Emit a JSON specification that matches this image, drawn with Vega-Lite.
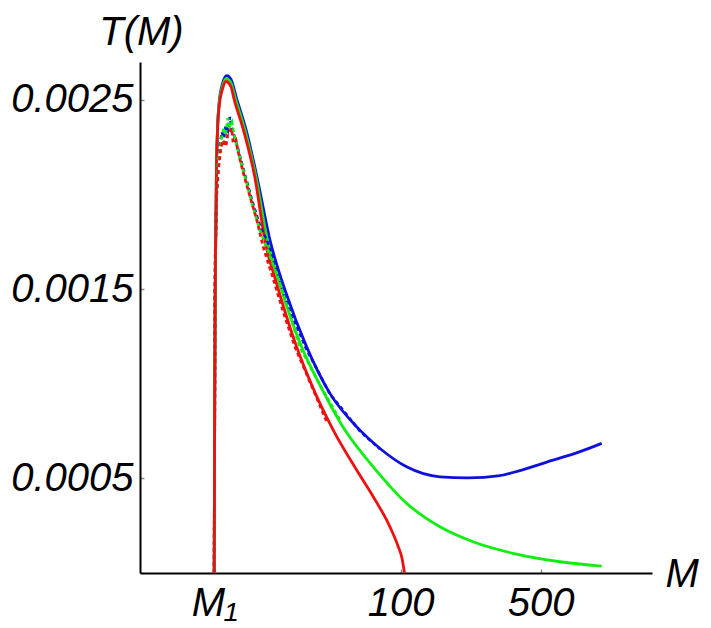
{
  "$schema": "https://vega.github.io/schema/vega-lite/v6.json",
  "width": 512,
  "height": 511,
  "autosize": {"type": "none"},
  "padding": {"left": 140, "top": 62, "right": 59, "bottom": 55},
  "background": "white",
  "config": {
    "view": {"stroke": null},
    "axis": {
      "grid": false,
      "domainColor": "black",
      "domainWidth": 2,
      "tickColor": "#888888",
      "tickWidth": 1.5,
      "tickSize": -4,
      "labelFont": "Liberation Sans",
      "labelFontStyle": "italic",
      "labelFontSize": 40,
      "labelColor": "black",
      "labelFlush": false,
      "labelOverlap": false,
      "titleFont": "Liberation Sans",
      "titleFontStyle": "italic",
      "titleFontSize": 40,
      "titleFontWeight": "normal",
      "titleColor": "black"
    }
  },
  "datasets": {
    "solid": [
      {"s": "1b", "i": 0, "M": 11.73, "T": 0},
      {"s": "1b", "i": 1, "M": 11.76, "T": 0.000385},
      {"s": "1b", "i": 2, "M": 11.80, "T": 0.000914},
      {"s": "1b", "i": 3, "M": 11.86, "T": 0.001442},
      {"s": "1b", "i": 4, "M": 11.97, "T": 0.001864},
      {"s": "1b", "i": 5, "M": 12.03, "T": 0.002102},
      {"s": "1b", "i": 6, "M": 12.17, "T": 0.002329},
      {"s": "1b", "i": 7, "M": 12.45, "T": 0.002498},
      {"s": "1b", "i": 8, "M": 12.89, "T": 0.002583},
      {"s": "1b", "i": 9, "M": 13.53, "T": 0.002628},
      {"s": "1b", "i": 10, "M": 14.22, "T": 0.002609},
      {"s": "1b", "i": 11, "M": 15.18, "T": 0.002507},
      {"s": "1b", "i": 12, "M": 17.03, "T": 0.002331},
      {"s": "1b", "i": 13, "M": 19.10, "T": 0.002102},
      {"s": "1b", "i": 14, "M": 22.26, "T": 0.001760},
      {"s": "1b", "i": 15, "M": 26.98, "T": 0.001470},
      {"s": "1b", "i": 16, "M": 33.94, "T": 0.001195},
      {"s": "1b", "i": 17, "M": 44.36, "T": 0.000949},
      {"s": "1b", "i": 18, "M": 62.61, "T": 0.000755},
      {"s": "1b", "i": 19, "M": 78.83, "T": 0.000658},
      {"s": "1b", "i": 20, "M": 107.1, "T": 0.000561},
      {"s": "1b", "i": 21, "M": 157.1, "T": 0.000508},
      {"s": "1b", "i": 22, "M": 216.8, "T": 0.000503},
      {"s": "1b", "i": 23, "M": 313.2, "T": 0.000515},
      {"s": "1b", "i": 24, "M": 363.7, "T": 0.000531},
      {"s": "1b", "i": 25, "M": 535.7, "T": 0.000586},
      {"s": "1b", "i": 26, "M": 785.6, "T": 0.000641},
      {"s": "1b", "i": 27, "M": 1008, "T": 0.000685},

      {"s": "2g", "i": 0, "M": 11.73, "T": 0},
      {"s": "2g", "i": 1, "M": 11.76, "T": 0.000385},
      {"s": "2g", "i": 2, "M": 11.80, "T": 0.000914},
      {"s": "2g", "i": 3, "M": 11.86, "T": 0.001442},
      {"s": "2g", "i": 4, "M": 11.97, "T": 0.001864},
      {"s": "2g", "i": 5, "M": 12.03, "T": 0.002102},
      {"s": "2g", "i": 6, "M": 12.17, "T": 0.002329},
      {"s": "2g", "i": 7, "M": 12.45, "T": 0.002490},
      {"s": "2g", "i": 8, "M": 12.89, "T": 0.002570},
      {"s": "2g", "i": 9, "M": 13.47, "T": 0.002612},
      {"s": "2g", "i": 10, "M": 14.22, "T": 0.002590},
      {"s": "2g", "i": 11, "M": 14.97, "T": 0.002507},
      {"s": "2g", "i": 12, "M": 16.80, "T": 0.002331},
      {"s": "2g", "i": 13, "M": 18.88, "T": 0.002102},
      {"s": "2g", "i": 14, "M": 21.75, "T": 0.001745},
      {"s": "2g", "i": 15, "M": 24.40, "T": 0.001560},
      {"s": "2g", "i": 16, "M": 32.03, "T": 0.001195},
      {"s": "2g", "i": 17, "M": 39.56, "T": 0.000993},
      {"s": "2g", "i": 18, "M": 52.72, "T": 0.000755},
      {"s": "2g", "i": 19, "M": 72.97, "T": 0.000561},
      {"s": "2g", "i": 20, "M": 107.1, "T": 0.000368},
      {"s": "2g", "i": 21, "M": 157.1, "T": 0.000244},
      {"s": "2g", "i": 22, "M": 229.6, "T": 0.000165},
      {"s": "2g", "i": 23, "M": 363.7, "T": 0.000104},
      {"s": "2g", "i": 24, "M": 624.3, "T": 0.0000594},
      {"s": "2g", "i": 25, "M": 1008, "T": 0.0000367},

      {"s": "3r", "i": 0, "M": 11.73, "T": 0},
      {"s": "3r", "i": 1, "M": 11.76, "T": 0.000385},
      {"s": "3r", "i": 2, "M": 11.80, "T": 0.000914},
      {"s": "3r", "i": 3, "M": 11.86, "T": 0.001442},
      {"s": "3r", "i": 4, "M": 11.97, "T": 0.001864},
      {"s": "3r", "i": 5, "M": 12.03, "T": 0.002102},
      {"s": "3r", "i": 6, "M": 12.17, "T": 0.002320},
      {"s": "3r", "i": 7, "M": 12.45, "T": 0.002475},
      {"s": "3r", "i": 8, "M": 12.89, "T": 0.002555},
      {"s": "3r", "i": 9, "M": 13.42, "T": 0.002597},
      {"s": "3r", "i": 10, "M": 14.22, "T": 0.002570},
      {"s": "3r", "i": 11, "M": 14.72, "T": 0.002507},
      {"s": "3r", "i": 12, "M": 16.51, "T": 0.002331},
      {"s": "3r", "i": 13, "M": 18.63, "T": 0.002102},
      {"s": "3r", "i": 14, "M": 21.26, "T": 0.001730},
      {"s": "3r", "i": 15, "M": 23.57, "T": 0.001560},
      {"s": "3r", "i": 16, "M": 30.25, "T": 0.001195},
      {"s": "3r", "i": 17, "M": 36.91, "T": 0.000966},
      {"s": "3r", "i": 18, "M": 46.08, "T": 0.000755},
      {"s": "3r", "i": 19, "M": 60.31, "T": 0.000544},
      {"s": "3r", "i": 20, "M": 72.97, "T": 0.000403},
      {"s": "3r", "i": 21, "M": 88.43, "T": 0.000244},
      {"s": "3r", "i": 22, "M": 97.28, "T": 0.000139},
      {"s": "3r", "i": 23, "M": 101.5, "T": 0.0000790},
      {"s": "3r", "i": 24, "M": 103.0, "T": 0.0000420},
      {"s": "3r", "i": 25, "M": 104.5, "T": 0}
    ],
    "dash": [
      {"s": "1b", "i": 0, "M": 11.73, "T": 0},
      {"s": "1b", "i": 1, "M": 11.76, "T": 0.000385},
      {"s": "1b", "i": 2, "M": 11.80, "T": 0.000914},
      {"s": "1b", "i": 3, "M": 11.83, "T": 0.001442},
      {"s": "1b", "i": 4, "M": 11.89, "T": 0.001706},
      {"s": "1b", "i": 5, "M": 12.07, "T": 0.002007},
      {"s": "1b", "i": 6, "M": 12.29, "T": 0.002181},
      {"s": "1b", "i": 7, "M": 12.53, "T": 0.002261},
      {"s": "1b", "i": 8, "M": 12.82, "T": 0.002329},
      {"s": "1b", "i": 9, "M": 13.12, "T": 0.002298},
      {"s": "1b", "i": 10, "M": 13.42, "T": 0.002366},
      {"s": "1b", "i": 11, "M": 13.73, "T": 0.002340},
      {"s": "1b", "i": 12, "M": 14.05, "T": 0.002410},
      {"s": "1b", "i": 13, "M": 14.38, "T": 0.002350},
      {"s": "1b", "i": 14, "M": 14.72, "T": 0.002314},
      {"s": "1b", "i": 15, "M": 15.24, "T": 0.002261},
      {"s": "1b", "i": 16, "M": 15.95, "T": 0.002181},
      {"s": "1b", "i": 17, "M": 16.89, "T": 0.002086},
      {"s": "1b", "i": 18, "M": 18.10, "T": 0.001970},
      {"s": "1b", "i": 19, "M": 19.84, "T": 0.001833},
      {"s": "1b", "i": 20, "M": 22.26, "T": 0.001720},
      {"s": "1b", "i": 21, "M": 26.45, "T": 0.001455},
      {"s": "1b", "i": 22, "M": 33.67, "T": 0.001188},
      {"s": "1b", "i": 23, "M": 44.36, "T": 0.000945},
      {"s": "1b", "i": 24, "M": 62.61, "T": 0.000750},
      {"s": "1b", "i": 25, "M": 78.83, "T": 0.000655},

      {"s": "2g", "i": 0, "M": 11.73, "T": 0},
      {"s": "2g", "i": 1, "M": 11.76, "T": 0.000385},
      {"s": "2g", "i": 2, "M": 11.80, "T": 0.000914},
      {"s": "2g", "i": 3, "M": 11.83, "T": 0.001442},
      {"s": "2g", "i": 4, "M": 11.89, "T": 0.001706},
      {"s": "2g", "i": 5, "M": 12.07, "T": 0.002007},
      {"s": "2g", "i": 6, "M": 12.29, "T": 0.002181},
      {"s": "2g", "i": 7, "M": 12.53, "T": 0.002234},
      {"s": "2g", "i": 8, "M": 12.82, "T": 0.002309},
      {"s": "2g", "i": 9, "M": 13.12, "T": 0.002351},
      {"s": "2g", "i": 10, "M": 13.42, "T": 0.002329},
      {"s": "2g", "i": 11, "M": 13.73, "T": 0.002403},
      {"s": "2g", "i": 12, "M": 14.05, "T": 0.002361},
      {"s": "2g", "i": 13, "M": 14.38, "T": 0.002382},
      {"s": "2g", "i": 14, "M": 14.72, "T": 0.002319},
      {"s": "2g", "i": 15, "M": 15.24, "T": 0.002255},
      {"s": "2g", "i": 16, "M": 15.95, "T": 0.002171},
      {"s": "2g", "i": 17, "M": 16.89, "T": 0.002076},
      {"s": "2g", "i": 18, "M": 18.10, "T": 0.001954},
      {"s": "2g", "i": 19, "M": 19.84, "T": 0.001812},
      {"s": "2g", "i": 20, "M": 21.75, "T": 0.001705},
      {"s": "2g", "i": 21, "M": 24.96, "T": 0.001530},
      {"s": "2g", "i": 22, "M": 31.42, "T": 0.001194},
      {"s": "2g", "i": 23, "M": 39.56, "T": 0.000993},
      {"s": "2g", "i": 24, "M": 49.77, "T": 0.000808},

      {"s": "3r", "i": 0, "M": 11.73, "T": 0},
      {"s": "3r", "i": 1, "M": 11.76, "T": 0.000385},
      {"s": "3r", "i": 2, "M": 11.80, "T": 0.000914},
      {"s": "3r", "i": 3, "M": 11.83, "T": 0.001442},
      {"s": "3r", "i": 4, "M": 11.89, "T": 0.001706},
      {"s": "3r", "i": 5, "M": 12.07, "T": 0.002007},
      {"s": "3r", "i": 6, "M": 12.38, "T": 0.002155},
      {"s": "3r", "i": 7, "M": 12.67, "T": 0.002245},
      {"s": "3r", "i": 8, "M": 13.01, "T": 0.002287},
      {"s": "3r", "i": 9, "M": 13.42, "T": 0.002255},
      {"s": "3r", "i": 10, "M": 13.73, "T": 0.002319},
      {"s": "3r", "i": 11, "M": 14.33, "T": 0.002349},
      {"s": "3r", "i": 12, "M": 14.60, "T": 0.002270},
      {"s": "3r", "i": 13, "M": 15.06, "T": 0.002287},
      {"s": "3r", "i": 14, "M": 15.59, "T": 0.002208},
      {"s": "3r", "i": 15, "M": 16.51, "T": 0.002102},
      {"s": "3r", "i": 16, "M": 17.69, "T": 0.001991},
      {"s": "3r", "i": 17, "M": 19.16, "T": 0.001864},
      {"s": "3r", "i": 18, "M": 20.61, "T": 0.001723},
      {"s": "3r", "i": 19, "M": 23.12, "T": 0.001555},
      {"s": "3r", "i": 20, "M": 25.94, "T": 0.001380},
      {"s": "3r", "i": 21, "M": 29.67, "T": 0.001195},
      {"s": "3r", "i": 22, "M": 35.25, "T": 0.001010},
      {"s": "3r", "i": 23, "M": 42.72, "T": 0.000800}
    ]
  },
  "encoding": {
    "x": {
      "field": "M",
      "type": "quantitative",
      "scale": {"type": "log", "domain": [5, 1797]},
      "axis": {
        "values": [11.73, 100, 500],
        "labelExpr": "datum.value < 20 ? 'M₁' : format(datum.value, 'd')",
        "labelPadding": 14,
        "title": "M",
        "titleX": 525,
        "titleY": 13,
        "titleAlign": "left",
        "titleBaseline": "alphabetic",
        "titleAnchor": null
      }
    },
    "y": {
      "field": "T",
      "type": "quantitative",
      "scale": {"domain": [0, 0.0027]},
      "axis": {
        "values": [0.0005, 0.0015, 0.0025],
        "format": ".4f",
        "labelPadding": 11,
        "title": "T(M)",
        "titleAngle": 0,
        "titleX": 1,
        "titleY": -18,
        "titleAlign": "center",
        "titleBaseline": "alphabetic",
        "titleAnchor": null
      }
    },
    "color": {
      "field": "s",
      "type": "nominal",
      "scale": {"domain": ["1b", "2g", "3r"], "range": ["#1010dd", "#10ee10", "#ee1010"]},
      "legend": null
    },
    "order": {"field": "i", "type": "quantitative"}
  },
  "layer": [
    {
      "data": {"name": "solid"},
      "mark": {"type": "line", "strokeWidth": 2.8, "interpolate": "monotone"}
    },
    {
      "data": {"name": "dash"},
      "mark": {"type": "line", "strokeWidth": 2.8, "strokeDash": [4, 3]}
    }
  ]
}
